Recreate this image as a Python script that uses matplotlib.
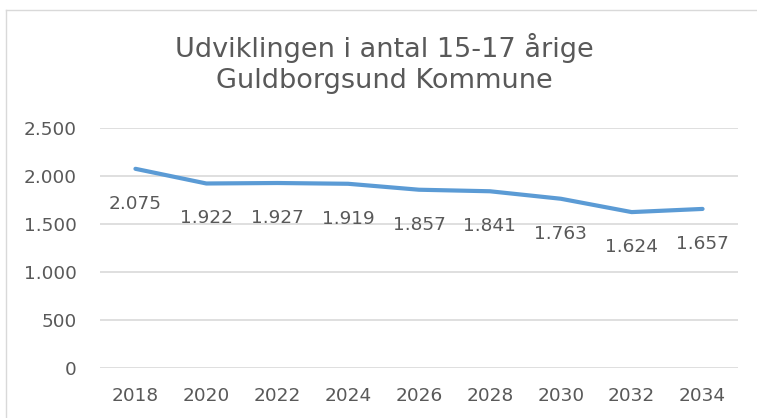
import matplotlib.pyplot as plt
from matplotlib.lines import Line2D

# data
years = ["2018", "2020", "2022", "2024", "2026", "2028", "2030", "2032", "2034"]
antal = [2075, 1922, 1927, 1919, 1857, 1841, 1763, 1624, 1657]
yticks = [0, 500, 1000, 1500, 2000, 2500]

txt_col = "#595959"
line_col = "#5B9BD5"
grid_col = "#D9D9D9"

def dk(v):
    # Danish thousands separator
    return f"{v:,}".replace(",", ".")

fig = plt.figure(figsize=(7.57, 4.18), dpi=100)
ax = fig.add_axes([100 / 757, 50 / 418, 638 / 757, 240 / 418])

x = list(range(len(years)))
ax.plot(x, antal, color=line_col, lw=3.0, solid_capstyle="round", solid_joinstyle="round", zorder=3)

for xi, v in zip(x, antal):
    ax.annotate(dk(v), (xi, v), xytext=(0, -35), textcoords="offset pixels",
                ha="center", va="center", fontsize=13.3, color=txt_col)

ax.set_xlim(-0.5, len(years) - 0.5)
ax.set_ylim(0, 2500)
ax.set_xticks(x)
ax.set_xticklabels(years)
ax.set_yticks(yticks)
ax.set_yticklabels([dk(t) for t in yticks])
ax.tick_params(axis="both", length=0, labelsize=13.3, labelcolor=txt_col)
ax.tick_params(axis="y", pad=17)
ax.tick_params(axis="x", pad=14)
ax.grid(axis="y", color=grid_col, lw=1.2)
ax.set_axisbelow(True)
for s in ax.spines.values():
    s.set_visible(False)

# title
fig.text(384 / 757, 1 - 57 / 418, "Udviklingen i antal 15-17 årige", ha="center", va="baseline",
         fontsize=19.5, color=txt_col)
fig.text(384 / 757, 1 - 88 / 418, "Guldborgsund Kommune", ha="center", va="baseline",
         fontsize=19.5, color=txt_col)

# chart area border (top and left visible)
fig.add_artist(Line2D([6 / 757, 1], [1 - 10 / 418, 1 - 10 / 418], color="#D9D9D9", lw=1.0))
fig.add_artist(Line2D([6 / 757, 6 / 757], [0, 1 - 10 / 418], color="#D9D9D9", lw=1.0))

fig.savefig("out.png", dpi=100, facecolor="white")
